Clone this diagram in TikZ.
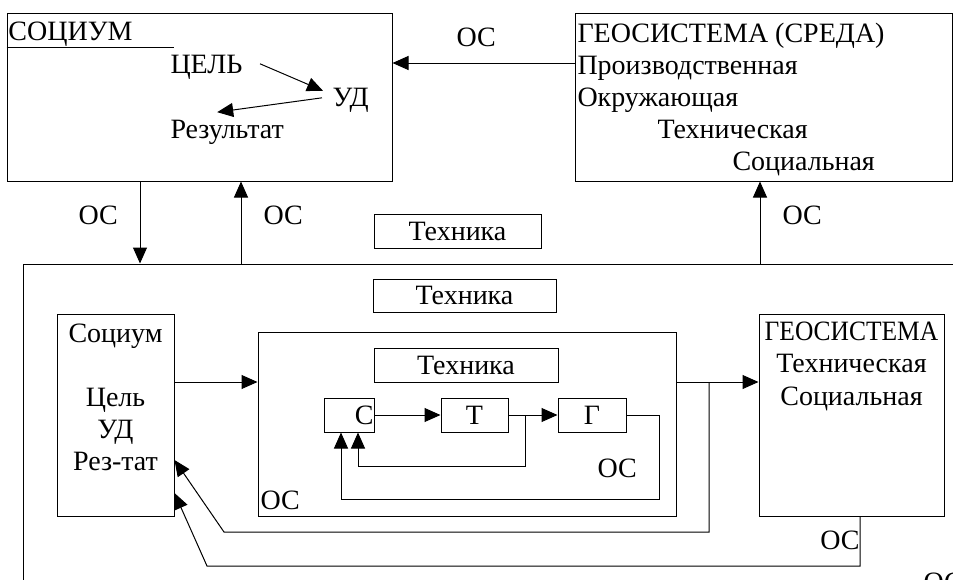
\documentclass[tikz,border=0pt]{standalone}
\usepackage{fontspec}
\setmainfont{Liberation Serif}
\newfontfamily\narrowfont{Liberation Serif}[FakeStretch=0.91]
\usetikzlibrary{arrows.meta}

\begin{document}
\begin{tikzpicture}[x=1pt,y=-1pt,line width=1pt,
  every node/.style={font=\fontsize{28}{32}\selectfont},
  box/.style={draw, rectangle, inner sep=0pt},
  txt/.style={inner sep=0pt},
  arr/.style={-{Triangle[length=16pt,width=14pt]}}]
\useasboundingbox (0,0) rectangle (953,579);
\clip (0,0) rectangle (953,579);
\node[box, minimum width=385pt, minimum height=168pt] (soc) at (199.5,97) {};
\node[box, minimum width=377pt, minimum height=168pt] (geo) at (763.5,97) {};
\node[box, minimum width=967pt, minimum height=356pt] (frame) at (506.5,442) {};
\node[box, minimum width=167pt, minimum height=34pt] (tech1) at (457.5,231) {Техника};
\node[box, minimum width=183pt, minimum height=33pt] (tech2) at (464.5,295.5) {Техника};
\node[box, minimum width=117pt, minimum height=202pt] (socl) at (115.5,415) {};
\node[box, minimum width=418pt, minimum height=184pt] (mid) at (467,424) {};
\node[box, minimum width=185pt, minimum height=202pt] (geol) at (851.5,415) {};
\node[box, minimum width=184pt, minimum height=34pt] (tech3) at (466,365) {Техника};
\node[box, minimum width=50pt, minimum height=34pt, text width=49pt, align=right] (c) at (349,415) {С};
\node[box, minimum width=67pt, minimum height=34pt] (t) at (474.5,415) {Т};
\node[box, minimum width=68pt, minimum height=34pt] (g) at (592,415) {Г};
\node[txt, anchor=base west] (socname) at (8,40) {СОЦИУМ};
\draw (soc.west |- 0,47) -- (174,47);
\node[txt, anchor=base west] (cel) at (170,73) {ЦЕЛЬ};
\node[txt, anchor=base west] (ud) at (332,106) {УД};
\node[txt, anchor=base west] (res) at (170,138) {Результат};
\draw[arr] ([xshift=17pt,yshift=3pt]cel.east) -- ([xshift=-9pt,yshift=9pt]ud.west);
\draw[arr] ([xshift=-10pt,yshift=2pt]ud.west) -- ([xshift=-10pt,yshift=7pt]res.north);
\node[txt, anchor=base west] (geoname) at (577,42) {ГЕОСИСТЕМА (СРЕДА)};
\node[txt, anchor=base west] (geo1) at (577,74) {Производственная};
\node[txt, anchor=base west] (geo2) at (577,106) {Окружающая};
\node[txt, anchor=base west] (geo3) at (657,138) {Техническая};
\node[txt, anchor=base west] (geo4) at (732,170) {Социальная};
\draw[arr] (geo.west |- 0,63) -- (soc.east |- 0,63);
\node[txt, anchor=base west] (os1) at (456,46) {ОС};
\draw[arr] (soc.south -| 140,0) -- (frame.north -| 140,0);
\draw[arr] (frame.north -| 241,0) -- (soc.south -| 241,0);
\draw[arr] (frame.north -| 760,0) -- (geo.south -| 760,0);
\node[txt, anchor=base west] (os2) at (78,224) {ОС};
\node[txt, anchor=base west] (os3) at (263,224) {ОС};
\node[txt, anchor=base west] (os4) at (782,224) {ОС};
\node[txt, anchor=base] (socl1) at (115.5,342) {Социум};
\node[txt, anchor=base] (socl2) at (115.5,406) {Цель};
\node[txt, anchor=base] (socl3) at (115.5,438) {УД};
\node[txt, anchor=base] (socl4) at (115.5,470) {Рез-тат};
\node[txt, anchor=base, font=\fontsize{28}{32}\narrowfont] (geol1) at (851.5,340) {ГЕОСИСТЕМА};
\node[txt, anchor=base] (geol2) at (851.5,372) {Техническая};
\node[txt, anchor=base] (geol3) at (851.5,405) {Социальная};
\draw[arr] (socl.east |- 0,382) -- (mid.west |- 0,382);
\draw[arr] (mid.east |- 0,382) -- (geol.west |- 0,382);
\coordinate (j1) at (709,382);
\draw[arr] (j1) |- (224,532) -- (socl.east |- 0,460);
\draw[arr] (geol.south -| 860,0) |- (207,566) -- (socl.east |- 0,493);
\draw[arr] (c) -- (t);
\draw[arr] (t) -- (g);
\coordinate (j2) at (525,415);
\draw[arr] (j2) |- (358,466) -- (c.south -| 358,0);
\draw[arr] (g.east) -| (659,499) -| (c.south -| 341,0);
\node[txt, anchor=base west] (os5) at (597,477) {ОС};
\node[txt, anchor=base west] (os6) at (260,509) {ОС};
\node[txt, anchor=base east] (os7) at (860,549) {ОС};
\node[txt, anchor=base west] (os8) at (923,591) {ОС};
\end{tikzpicture}
\end{document}
